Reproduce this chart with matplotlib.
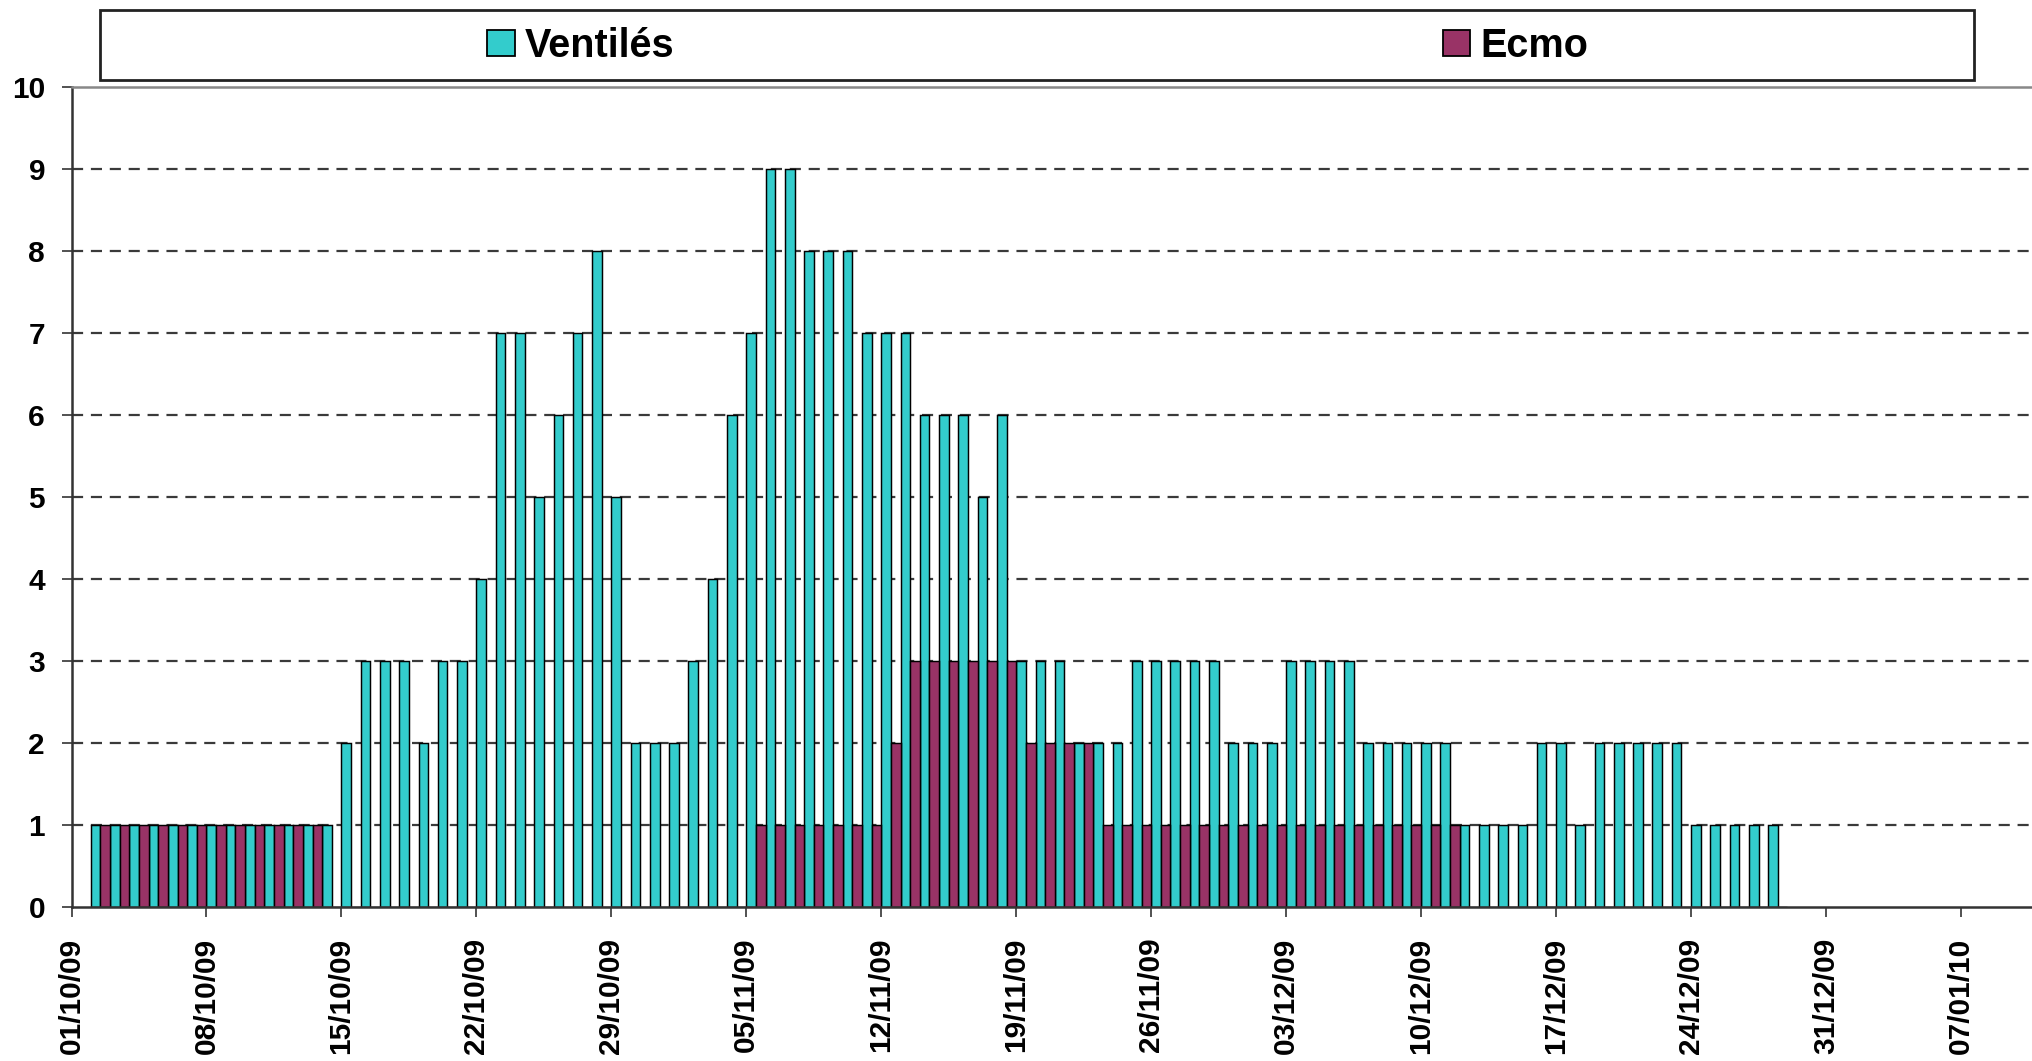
import numpy as np
import pandas as pd
import matplotlib
matplotlib.use("Agg")
import matplotlib.pyplot as plt
from matplotlib.patches import Patch, Rectangle

plt.rcParams["font.family"] = ["Liberation Sans", "DejaVu Sans"]

# daily counts, first value is 02/10/09
start_day = "2009-10-02"
ventiles = [1, 1, 1, 1, 1, 1, 1, 1, 1, 1, 1, 1, 1,          # 02/10 - 14/10
            2, 3, 3, 3, 2, 3, 3, 4, 7, 7, 5, 6, 7, 8,       # 15/10 - 28/10
            5, 2, 2, 2, 3, 4, 6,                            # 29/10 - 04/11
            7, 9, 9, 8, 8, 8, 7,                            # 05/11 - 11/11
            7, 7, 6, 6, 6, 5, 6,                            # 12/11 - 18/11
            3, 3, 3, 2, 2, 2, 3,                            # 19/11 - 25/11
            3, 3, 3, 3, 2, 2, 2,                            # 26/11 - 02/12
            3, 3, 3, 3, 2, 2, 2,                            # 03/12 - 09/12
            2, 2, 1, 1, 1, 1, 2,                            # 10/12 - 16/12
            2, 1, 2, 2, 2, 2, 2,                            # 17/12 - 23/12
            1, 1, 1, 1, 1]                                  # 24/12 - 28/12
ecmo = [1, 1, 1, 1, 1, 1, 1, 1, 1, 1, 1, 1, 0,
        0, 0, 0, 0, 0, 0, 0, 0, 0, 0, 0, 0, 0, 0,
        0, 0, 0, 0, 0, 0, 0,
        1, 1, 1, 1, 1, 1, 1,
        2, 3, 3, 3, 3, 3, 3,
        2, 2, 2, 2, 1, 1, 1,
        1, 1, 1, 1, 1, 1, 1,
        1, 1, 1, 1, 1, 1, 1,
        1, 1, 0, 0, 0, 0, 0,
        0, 0, 0, 0, 0, 0, 0,
        0, 0, 0, 0, 0]
tick_labels = ["01/10/09", "08/10/09", "15/10/09", "22/10/09", "29/10/09",
               "05/11/09", "12/11/09", "19/11/09", "26/11/09", "03/12/09",
               "10/12/09", "17/12/09", "24/12/09", "31/12/09", "07/01/10"]
series_names = ["Ventilés", "Ecmo"]

cyan, maroon = "#33CCCC", "#993366"

days = pd.date_range(start_day, periods=len(ventiles))
x = np.asarray((days - pd.Timestamp("2009-10-01")).days, dtype=float)

fig = plt.figure(figsize=(20.32, 10.61), dpi=100)
ax = fig.add_axes([71.5 / 2032, 1 - 907 / 1061, 1 - 71.5 / 2032, 820 / 1061])

ax.bar(x, ventiles, width=0.5, align="edge", color=cyan, edgecolor="black", linewidth=1.05, zorder=3)
ax.bar(x + 0.5, ecmo, width=0.5, align="edge", color=maroon, edgecolor="black", linewidth=1.05, zorder=3)

ax.set_xlim(0, (2032 - 71.5) / 19.28)
ax.set_ylim(0, 10)
ax.set_yticks(range(11))
ax.set_xticks(np.arange(len(tick_labels)) * 7)
ax.set_xticklabels(tick_labels, rotation=90, fontsize=21.5, fontweight="bold")
for lab in ax.get_yticklabels():
    lab.set_fontsize(21.5)
    lab.set_fontweight("bold")
ax.tick_params(axis="both", direction="out", length=7, width=1.2, color="#333")
ax.tick_params(axis="x", pad=15)
ax.tick_params(axis="y", pad=12)

for yv in range(1, 10):
    ax.axhline(yv, color="#3a3a3a", linewidth=1.6, linestyle=(0, (5, 3.5)), zorder=1)

ax.spines["right"].set_visible(False)
ax.spines["top"].set_color("#888")
ax.spines["top"].set_linewidth(1.8)
for s in ("left", "bottom"):
    ax.spines[s].set_color("#333")
    ax.spines[s].set_linewidth(1.8)
ax.spines["bottom"].set_zorder(4)

# legend box across the top
fig.add_artist(Rectangle((100 / 2032, 1 - 80 / 1061), 1874 / 2032, 70 / 1061,
                         transform=fig.transFigure, fill=False, edgecolor="#222", linewidth=2.0))
handles = [Patch(facecolor=cyan, edgecolor="black", linewidth=1.3),
           Patch(facecolor=maroon, edgecolor="black", linewidth=1.3)]
fig.legend(handles, series_names, ncol=2, loc="center left",
           bbox_to_anchor=(487 / 2032, 1 - 46 / 1061), frameon=False,
           prop={"size": 28.5, "weight": "bold"}, handlelength=0.7, handleheight=0.65,
           handletextpad=0.26, columnspacing=19.4, borderpad=0, borderaxespad=0)

fig.savefig("out.png", dpi=100)
